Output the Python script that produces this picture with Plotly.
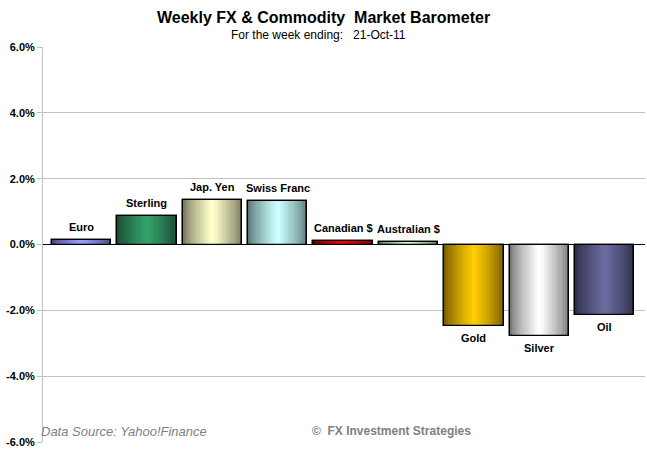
import plotly.graph_objects as go

categories = ["Euro", "Sterling", "Jap. Yen", "Swiss Franc", "Canadian $",
              "Australian $", "Gold", "Silver", "Oil"]
values = [0.13, 0.86, 1.34, 1.31, 0.11, 0.07, -2.49, -2.78, -2.15]
tick_values = [-6, -4, -2, 0, 2, 4, 6]
tick_labels = ["-6.0%", "-4.0%", "-2.0%", "0.0%", "2.0%", "4.0%", "6.0%"]

center_colors = ["#9999FF", "#33A06A", "#FFFFCC", "#CCFFFF", "#FF0000",
                 "#CCFFCC", "#FFCC00", "#FFFFFF", "#6A6A9E"]
edge_colors = ["#4A4A80", "#1A4D33", "#7A7A60", "#5E7A7A", "#700000",
               "#5E785E", "#7A6000", "#7A7A7A", "#2E2E4A"]


def hex2rgb(h):
    h = h.lstrip("#")
    return tuple(int(h[i:i + 2], 16) for i in (0, 2, 4))


def mix(c1, c2, t):
    a, b = hex2rgb(c1), hex2rgb(c2)
    return "rgb(%d,%d,%d)" % tuple(round(a[i] + (b[i] - a[i]) * t) for i in range(3))


xs = list(range(len(categories)))
fig = go.Figure()

full_w = 0.91
layers = 14
for k in range(layers):
    t = k / (layers - 1)
    w = full_w * (1 - k / layers)
    cols = [mix(e, c, t ** 0.8) for e, c in zip(edge_colors, center_colors)]
    fig.add_trace(go.Bar(
        x=xs, y=values, width=w,
        marker=dict(color=cols,
                    line=dict(color="black", width=1.3 if k == 0 else 0)),
        hoverinfo="skip", showlegend=False,
    ))

# outline on top
fig.add_trace(go.Bar(
    x=xs, y=values, width=full_w,
    marker=dict(color="rgba(0,0,0,0)", line=dict(color="black", width=1.3)),
    hoverinfo="skip", showlegend=False,
))

for xi, v, name in zip(xs, values, categories):
    fig.add_annotation(
        x=xi, y=v, text="<b>%s</b>" % name, showarrow=False,
        yanchor="bottom" if v >= 0 else "top",
        yshift=5 if v >= 0 else -4,
        font=dict(family="Liberation Sans, Arial", size=11, color="black"),
    )

fig.add_annotation(
    xref="paper", yref="paper", x=0.466, y=1, yshift=30, yanchor="middle",
    text="<b>Weekly FX &amp; Commodity  Market Barometer</b>", showarrow=False,
    font=dict(family="Liberation Sans, Arial", size=16, color="black"),
)
fig.add_annotation(
    xref="paper", yref="paper", x=0.457, y=1, yshift=12, yanchor="middle",
    text="For the week ending:   21-Oct-11", showarrow=False,
    font=dict(family="Liberation Sans, Arial", size=12, color="black"),
)
fig.add_annotation(
    xref="paper", yref="paper", x=0.0, xshift=-4, y=0, yshift=11, xanchor="left",
    yanchor="middle",
    text="<i>Data Source: Yahoo!Finance</i>", showarrow=False,
    font=dict(family="Liberation Sans, Arial", size=13, color="#808080"),
)
fig.add_annotation(
    xref="paper", yref="paper", x=0.444, y=0, yshift=11, xanchor="left",
    yanchor="middle",
    text="<b>©  FX Investment Strategies</b>", showarrow=False,
    font=dict(family="Liberation Sans, Arial", size=12, color="#808080"),
)

fig.update_layout(
    width=647, height=458,
    margin=dict(l=43, r=2, t=47, b=16),
    paper_bgcolor="white", plot_bgcolor="white",
    barmode="overlay", bargap=0,
    xaxis=dict(range=[-0.589, 8.616], showticklabels=False, showgrid=False,
               zeroline=False, showline=False, ticks=""),
    yaxis=dict(range=[-6, 6], tickvals=tick_values, ticktext=tick_labels,
               showgrid=True, gridcolor="#C0C0C0", gridwidth=1,
               zeroline=True, zerolinecolor="black", zerolinewidth=1,
               showline=True, linecolor="#C0C0C0", linewidth=1,
               ticks="outside", ticklen=5, tickcolor="#C0C0C0",
               tickfont=dict(family="Liberation Sans, Arial", size=11, color="black",
                             weight="bold")),
    font=dict(family="Liberation Sans, Arial"),
)

fig.write_html("out.html")
